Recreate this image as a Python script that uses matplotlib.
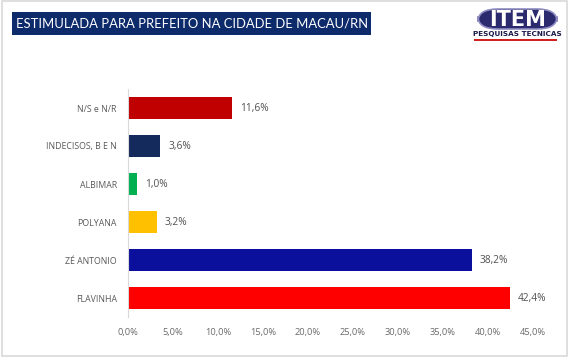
import matplotlib
matplotlib.use("Agg")
import matplotlib.pyplot as plt
from matplotlib.patches import FancyBboxPatch, Rectangle
from matplotlib.ticker import FuncFormatter, MultipleLocator

categories = ["FLAVINHA", "ZÉ ANTONIO", "POLYANA", "ALBIMAR", "INDECISOS, B E N", "N/S e N/R"]
values = [42.4, 38.2, 3.2, 1.0, 3.6, 11.6]
colors = ["#ff0000", "#0a0f9c", "#ffc000", "#00b050", "#142a5c", "#c00000"]
title = "ESTIMULADA PARA PREFEITO NA CIDADE DE MACAU/RN"

plt.rcParams['font.family'] = ['Open Sans', 'DejaVu Sans']

W, H = 569, 358
fig = plt.figure(figsize=(W/100, H/100), dpi=100)
fig.patch.set_facecolor("white")

def fx(px): return px / W
def fy(py): return 1 - py / H

# light frame
fig.patches.append(Rectangle((0.003, 0.006), 0.994, 0.99, transform=fig.transFigure,
                             fill=False, edgecolor="#d9d9d9", linewidth=1.2))

ax = fig.add_axes([fx(128), fy(317), fx(533) - fx(128), 228/H])
y = list(range(len(categories)))
ax.barh(y, values, height=0.6, color=colors)
ax.set_xlim(0, 45)
ax.set_ylim(-0.5, 5.5)
ax.set_yticks(y)
ax.set_yticklabels(categories, fontsize=6.3, color="#595959")
ax.xaxis.set_major_locator(MultipleLocator(5))
ax.xaxis.set_major_formatter(FuncFormatter(lambda v, p: f"{v:.1f}%".replace(".", ",")))
ax.tick_params(axis="x", labelsize=6.7, labelcolor="#6b6b6b", length=0, pad=8)
ax.tick_params(axis="y", length=0, pad=8)
for s in ["top", "right", "bottom"]:
    ax.spines[s].set_visible(False)
ax.spines["left"].set_color("#d9d9d9")
ax.spines["left"].set_linewidth(0.8)

for yi, v in zip(y, values):
    ax.text(v + 0.9, yi, f"{v:.1f}%".replace(".", ","), va="center", ha="left",
            fontsize=7.3, color="#505050")

# title box
fig.patches.append(Rectangle((fx(12), fy(35)), fx(371) - fx(12), 23/H, transform=fig.transFigure,
                             facecolor="#0d2a6b", edgecolor="none"))
t = fig.text(fx(16), fy(23.5), title, color="white", fontsize=10, va="center", ha="left",
             family=["Lato", "DejaVu Sans"])
fig.canvas.draw()
r = fig.canvas.get_renderer()
w = t.get_window_extent(r).width
t.set_fontsize(10 * 349 / w)

# logo
fig.patches.append(FancyBboxPatch((fx(478), fy(29)), fx(557) - fx(478), 20/H,
                                  boxstyle="round,pad=0,rounding_size=0.035",
                                  transform=fig.transFigure, facecolor="#2b2a6e",
                                  edgecolor="#8e8cc0", linewidth=1.2))
fig.text(fx(517.5), fy(19.5), "ITEM", color="white", fontsize=15, fontweight="heavy",
         ha="center", va="center", family="DejaVu Sans")
fig.text(fx(517.5), fy(34), "PESQUISAS TECNICAS", color="#1a1a4a", fontsize=5.2,
         ha="center", va="center", family="DejaVu Sans Condensed", fontweight="bold")
fig.patches.append(Rectangle((fx(474), fy(41)), fx(557) - fx(474), 2/H,
                             transform=fig.transFigure, facecolor="#d02020", edgecolor="none"))

fig.savefig("out.png", dpi=100)
